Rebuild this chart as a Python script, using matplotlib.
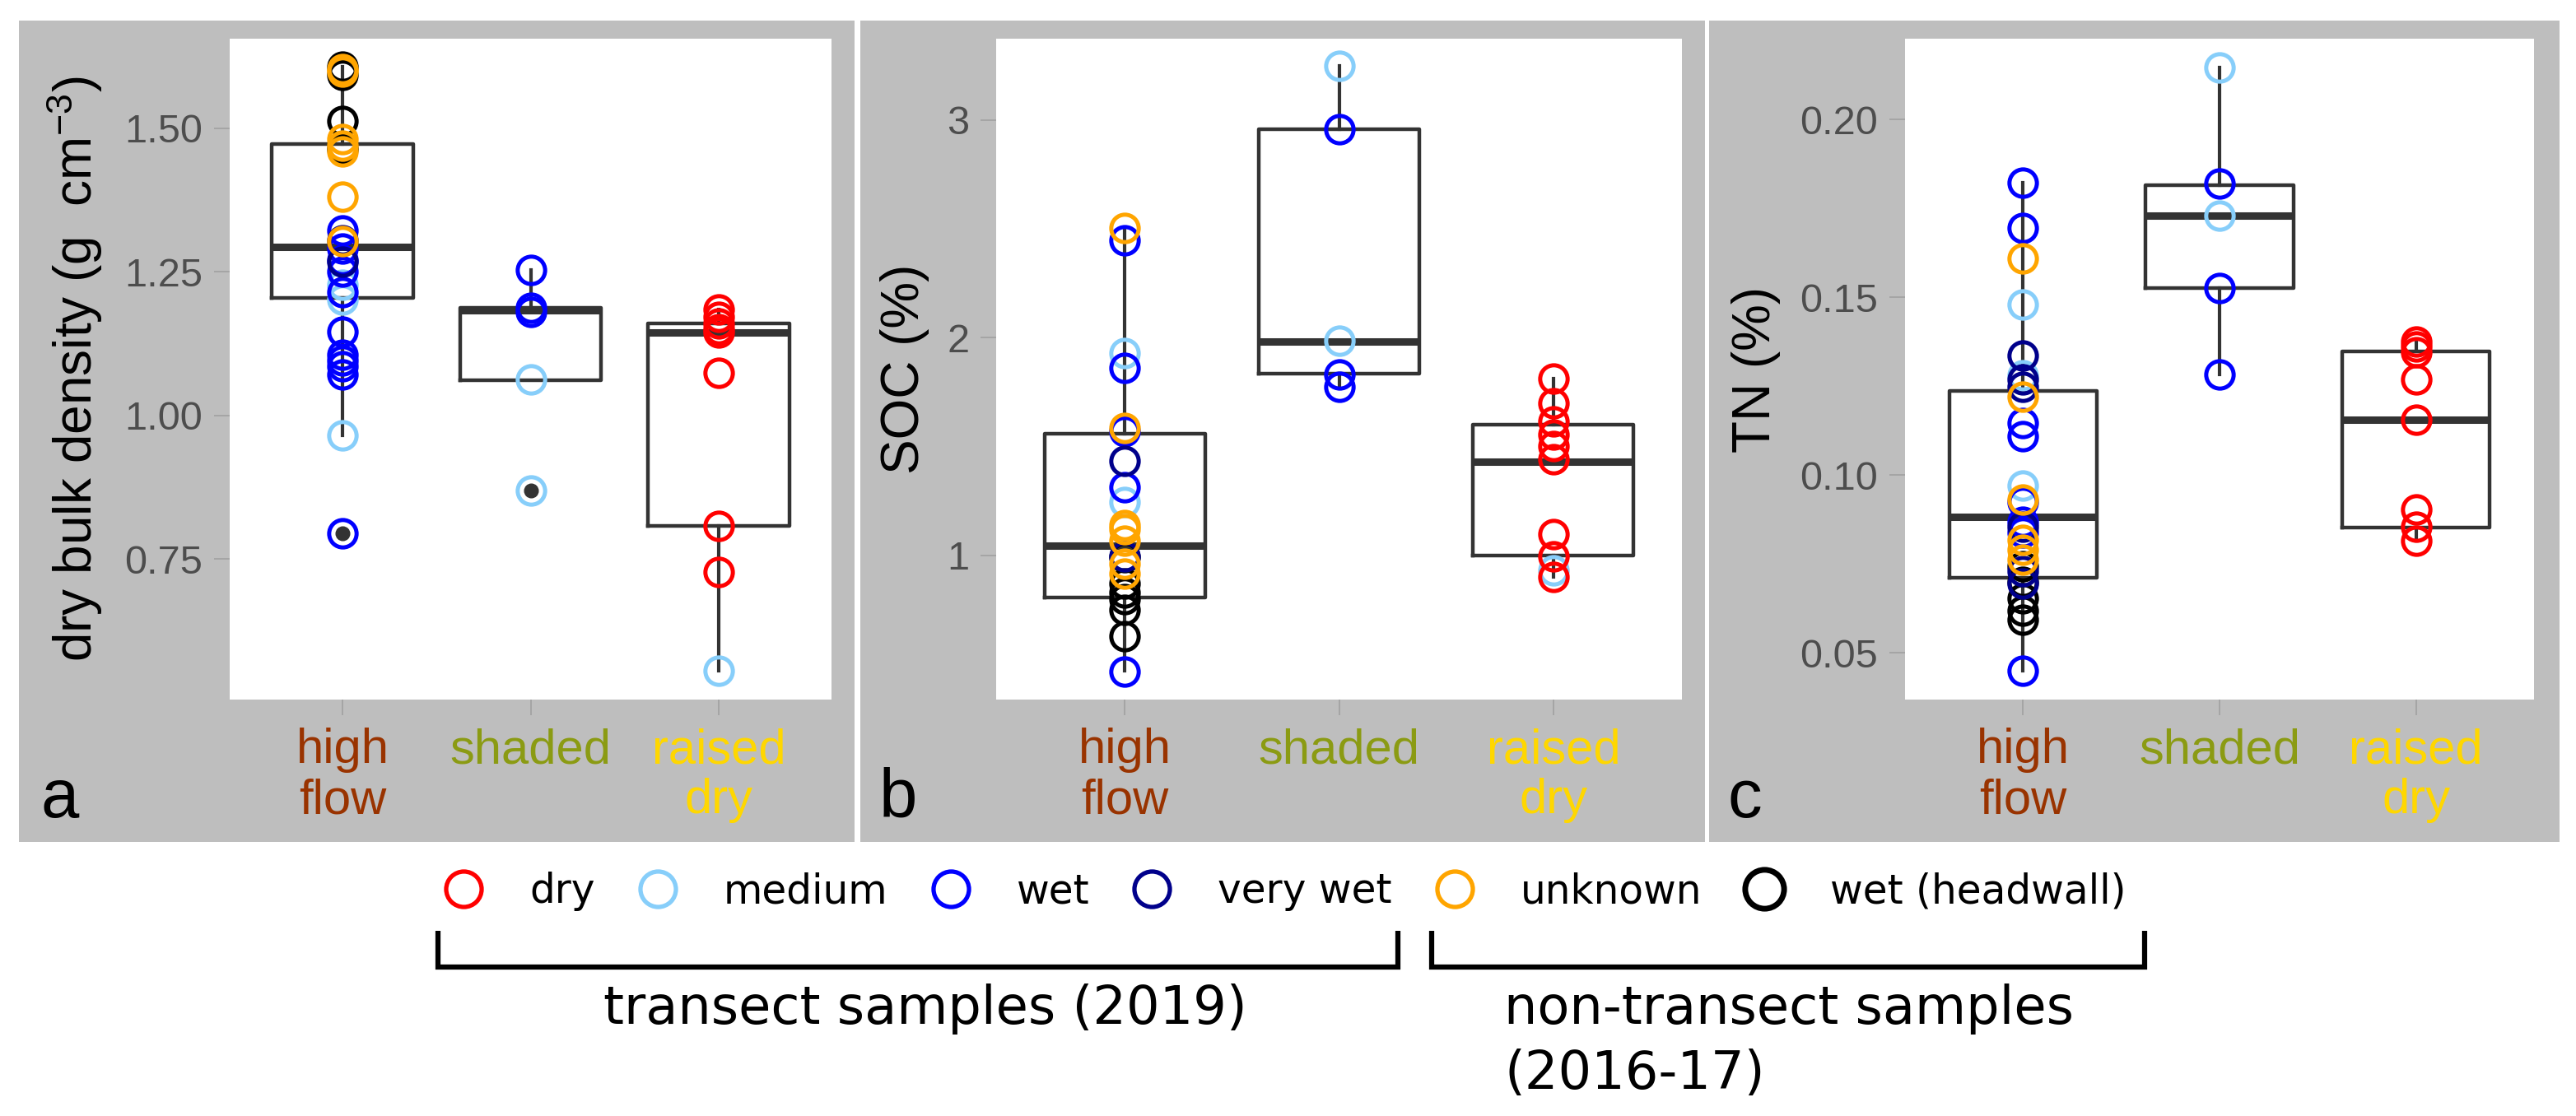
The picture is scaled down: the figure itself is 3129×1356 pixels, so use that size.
import matplotlib
matplotlib.use('Agg')
import matplotlib.pyplot as plt
from matplotlib.lines import Line2D
from matplotlib.patches import Rectangle

# ---------------- data ----------------
categories = ['high\nflow', 'shaded', 'raised\ndry']
category_colors = ['#993300', '#8B9B13', '#FFD700']

classes = ['dry', 'medium', 'wet', 'very wet', 'unknown', 'wet (headwall)']
class_colors = {'dry': '#FF0000', 'medium': '#87CEFA', 'wet': '#0000FF',
                'very wet': '#00008B', 'unknown': '#FFA500', 'wet (headwall)': '#000000'}
draw_order = ['wet (headwall)', 'medium', 'dry', 'wet', 'very wet', 'unknown']

# (a) dry bulk density (g cm-3)
bd_high_flow = {
    'wet (headwall)': [1.607, 1.593, 1.512, 1.464],
    'unknown': [1.603, 1.598, 1.481, 1.469, 1.459, 1.380, 1.303],
    'wet': [1.322, 1.290, 1.270, 1.250, 1.214, 1.146, 1.105, 1.095, 1.085, 1.072, 0.795],
    'very wet': [1.305, 1.268],
    'medium': [1.228, 1.202, 0.966],
}
bd_shaded = {'wet': [1.253, 1.187, 1.180], 'medium': [1.062, 0.870]}
bd_raised_dry = {'dry': [1.185, 1.172, 1.160, 1.150, 1.144, 1.074, 0.808, 0.727],
                 'medium': [0.556]}
bd_q1 = [1.204, 1.061, 0.808]
bd_med = [1.293, 1.183, 1.144]
bd_q3 = [1.472, 1.187, 1.160]
bd_whislo = [0.966, 1.061, 0.556]
bd_whishi = [1.607, 1.253, 1.185]
bd_outliers = [[0.795], [0.870], []]

# (b) SOC (%)
soc_high_flow = {
    'wet (headwall)': [0.990, 0.870, 0.830, 0.800, 0.750, 0.627],
    'unknown': [2.504, 1.586, 1.140, 1.120, 1.066, 0.960, 0.917],
    'wet': [2.446, 1.861, 1.570, 1.314, 0.467],
    'very wet': [1.434, 0.995],
    'medium': [1.930, 1.246],
}
soc_shaded = {'medium': [3.247, 1.985], 'wet': [2.957, 1.830, 1.773]}
soc_raised_dry = {'dry': [1.812, 1.697, 1.616, 1.555, 1.502, 1.440, 1.098, 0.995, 0.900],
                  'medium': [0.930]}
soc_q1 = [0.806, 1.834, 0.999]
soc_med = [1.046, 1.983, 1.430]
soc_q3 = [1.557, 2.957, 1.600]
soc_whislo = [0.470, 1.773, 0.900]
soc_whishi = [2.504, 3.247, 1.812]
soc_outliers = [[], [], []]

# (c) TN (%)
tn_high_flow = {
    'wet': [0.1824, 0.1696, 0.1148, 0.1110, 0.0925, 0.0870, 0.0840, 0.0450],
    'unknown': [0.1611, 0.1222, 0.0932, 0.0817, 0.0790, 0.0763],
    'medium': [0.1480, 0.1280, 0.0970],
    'very wet': [0.1336, 0.1270, 0.1249, 0.0855, 0.0730, 0.0695],
    'wet (headwall)': [0.0745, 0.0700, 0.0654, 0.0620, 0.0593],
}
tn_shaded = {'medium': [0.2148, 0.1730], 'wet': [0.1820, 0.1526, 0.1284]}
tn_raised_dry = {'dry': [0.1375, 0.1362, 0.1345, 0.1270, 0.1155, 0.0904, 0.0855, 0.0816]}
tn_q1 = [0.0712, 0.1526, 0.0852]
tn_med = [0.0883, 0.1731, 0.1156]
tn_q3 = [0.1238, 0.1816, 0.1349]
tn_whislo = [0.0450, 0.1284, 0.0816]
tn_whishi = [0.1824, 0.2148, 0.1375]
tn_outliers = [[], [], []]

bd_yticks = [0.75, 1.00, 1.25, 1.50]
soc_yticks = [1, 2, 3]
tn_yticks = [0.05, 0.10, 0.15, 0.20]

# ---------------- style ----------------
W, H, DPI = 3129, 1356, 100
plt.rcParams['font.family'] = ['Liberation Sans', 'DejaVu Sans']
plt.rcParams['mathtext.fontset'] = 'custom'
plt.rcParams['mathtext.rm'] = 'Liberation Sans'
plt.rcParams['mathtext.it'] = 'Liberation Sans:italic'
plt.rcParams['mathtext.default'] = 'regular'

PANEL_BG = '#BEBEBE'
BOX_C = '#333333'
LEG_FONT = ['DejaVu Sans']

fig = plt.figure(figsize=(W / DPI, H / DPI), dpi=DPI)
fig.patch.set_facecolor('white')


def fx(px):
    return px / W


def fy(py):
    return 1 - py / H


# gray panel backgrounds (pixel extents)
for x0, x1 in [(23, 1038), (1045, 2071), (2076, 3109)]:
    fig.patches.append(Rectangle((fx(x0), fy(1023)), fx(x1) - fx(x0), fy(25) - fy(1023),
                                 transform=fig.transFigure, facecolor=PANEL_BG,
                                 edgecolor='none', zorder=-10))


def draw_panel(rect, groups, q1, med, q3, wlo, whi, outl, ylim, yticks, yfmt,
               ylabel, ylabel_x, letter, letter_x):
    ax = fig.add_axes(rect)
    ax.set_facecolor('white')
    stats = []
    for i in range(3):
        stats.append({'q1': q1[i], 'med': med[i], 'q3': q3[i], 'whislo': wlo[i],
                      'whishi': whi[i], 'fliers': outl[i]})
    ax.bxp(stats, positions=[0, 1, 2], widths=0.75, showcaps=False, manage_ticks=False,
           boxprops=dict(color=BOX_C, lw=3.2),
           whiskerprops=dict(color=BOX_C, lw=3.0),
           medianprops=dict(color=BOX_C, lw=6.5, solid_capstyle='butt'),
           flierprops=dict(marker='o', markerfacecolor=BOX_C, markeredgecolor=BOX_C,
                           markersize=12, linestyle='none'))
    for cls in draw_order:
        for gi, grp in enumerate(groups):
            vals = grp.get(cls, [])
            if vals:
                ax.plot([gi] * len(vals), vals, linestyle='none', marker='o',
                        markerfacecolor='none', markeredgecolor=class_colors[cls],
                        markersize=24, markeredgewidth=3.6, zorder=4)
    ax.set_xlim(-0.6, 2.6)
    ax.set_ylim(*ylim)
    ax.set_yticks(yticks)
    ax.set_yticklabels([yfmt.format(v) for v in yticks])
    ax.set_xticks([0, 1, 2])
    ax.set_xticklabels(categories, linespacing=1.15)
    for lbl, c in zip(ax.get_xticklabels(), category_colors):
        lbl.set_color(c)
    for s in ax.spines.values():
        s.set_visible(False)
    ax.tick_params(axis='y', length=13.5, width=1.2, color='#A0A0A0', pad=10,
                   labelsize=35, labelcolor='#4D4D4D')
    ax.tick_params(axis='x', length=13.5, width=1.2, color='#A0A0A0', pad=11,
                   labelsize=43)
    ax.set_ylabel(ylabel, fontsize=46, color='black')
    ax.yaxis.label.set_va('center')
    ax.yaxis.set_label_coords(ylabel_x, 0.5)
    fig.text(fx(letter_x), fy(993), letter, fontsize=60, ha='left', va='baseline')
    return ax


py0, py1 = 47, 850
draw_panel([fx(279), fy(py1), fx(1010) - fx(279), fy(py0) - fy(py1)],
           [bd_high_flow, bd_shaded, bd_raised_dry], bd_q1, bd_med, bd_q3,
           bd_whislo, bd_whishi, bd_outliers, (0.5057, 1.6555), bd_yticks, '{:.2f}',
           'dry bulk density (g  cm$^{-3}$)', -0.2585, 'a', 50)
draw_panel([fx(1210), fy(py1), fx(2043) - fx(1210), fy(py0) - fy(py1)],
           [soc_high_flow, soc_shaded, soc_raised_dry], soc_q1, soc_med, soc_q3,
           soc_whislo, soc_whishi, soc_outliers, (0.3375, 3.373), soc_yticks, '{:d}',
           'SOC (%)', -0.1333, 'b', 1068)
draw_panel([fx(2314), fy(py1), fx(3078) - fx(2314), fy(py0) - fy(py1)],
           [tn_high_flow, tn_shaded, tn_raised_dry], tn_q1, tn_med, tn_q3,
           tn_whislo, tn_whishi, tn_outliers, (0.0369, 0.2228), tn_yticks, '{:.2f}',
           'TN (%)', -0.237, 'c', 2099)

# ---------------- legend ----------------
handles = []
for cls in classes:
    big = cls == 'wet (headwall)'
    handles.append(Line2D([], [], linestyle='none', marker='o', markerfacecolor='none',
                          markeredgecolor=class_colors[cls],
                          markersize=34 if big else 31,
                          markeredgewidth=5.0 if big else 3.8))
fig.legend(handles, classes, loc='center left', bbox_to_anchor=(fx(539), fy(1083)),
           ncol=6, frameon=False, prop={'family': LEG_FONT, 'size': 35},
           handlelength=1.0, handletextpad=1.15, columnspacing=1.06,
           borderpad=0, borderaxespad=0)

# brackets grouping legend entries
for x0, x1 in [(532, 1698), (1739, 2605)]:
    fig.add_artist(Line2D([fx(x0), fx(x0), fx(x1), fx(x1)],
                          [fy(1131), fy(1175), fy(1175), fy(1131)],
                          transform=fig.transFigure, color='black', lw=4.5,
                          solid_joinstyle='miter', solid_capstyle='butt'))
fig.text(fx(1124), fy(1244), 'transect samples (2019)', ha='center', va='baseline',
         fontsize=46, family=LEG_FONT)
fig.text(fx(1827), fy(1244), 'non-transect samples', ha='left', va='baseline',
         fontsize=46, family=LEG_FONT)
fig.text(fx(1827), fy(1323), '(2016-17)', ha='left', va='baseline',
         fontsize=46, family=LEG_FONT)

fig.savefig('out.png', dpi=DPI)
